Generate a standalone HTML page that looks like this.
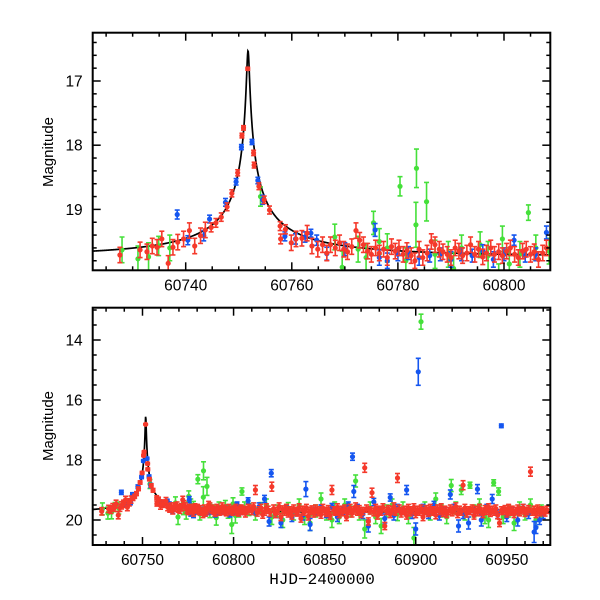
<!DOCTYPE html>
<html><head><meta charset="utf-8">
<style>
html,body{margin:0;padding:0;background:#fff;}
svg{display:block;}
text{font-family:"Liberation Sans",sans-serif;fill:#000;}
</style></head>
<body>
<svg id="chart" width="600" height="600" viewBox="0 0 600 600" xmlns="http://www.w3.org/2000/svg">
<defs>
<clipPath id="clipTop"><rect x="92.7" y="32.7" width="457.6" height="237.6"/></clipPath>
<clipPath id="clipBot"><rect x="92.7" y="307.7" width="457.6" height="237.3"/></clipPath>
</defs>
<g id="top"></g>
<g id="bot"></g>
<text x="0" y="0" transform="translate(53,152) rotate(-90)" text-anchor="middle" font-size="15">Magnitude</text>
<text x="0" y="0" transform="translate(53,426) rotate(-90)" text-anchor="middle" font-size="15">Magnitude</text>
<text x="322" y="584" text-anchor="middle" font-size="16" style="font-family:'Liberation Mono',monospace">HJD−2400000</text>
</svg>
<script>
// ---- data ----
const redT=[60727.6,60731.4,60732.7,60733.7,60734.6,60735.5,60736.7,60737.6,60738.5,60739.6,60740.7,60741.7,60742.8,60743.7,60744.8,60745.7,60746.7,60747.8,60748.7,60749.8,60750.6,60750.9,60751.7,60752.8,60752.9,60753.8,60754.8,60755.8,60757.8,60757.9,60758.8,60759.9,60760.8,60761.9,60762.9,60763.8,60764.9,
60765.8,60766.6,60767.3,60768.2,60769.0,60769.8,60770.5,60771.3,60772.1,60772.8,60773.5,60774.3,60775.0,60775.8,60776.5,60777.3,60778.0,60778.8,60779.5,60780.2,60781.0,60781.7,60782.5,60783.2,60784.0,60784.7,60785.5,60786.3,60787.0,60787.8,60788.5,60789.3,60790.0,60790.8,60791.5,60792.2,60793.0,60793.7,60794.5,60795.2,60796.0,60796.7,60797.5,60798.2,60799.0,60799.7,60800.5,60801.2,60802.0,60802.7,60803.5,60804.2,60805.0,60805.7,60806.5,60807.3,60808.0,
60809,60810,60811,60812,60813,60814,60815,60816,60817,60818,60819,60820,60821,60822,60823,60824,60825,60826,60827,60828,60829,60830,60831,60832,60833,60834,60835,60836,60837,60838,60839,60840,60841,60842,60843,60844,60845,60846,60847,60848,60849,60850,60851,60852,60853,60854,60855,60856,60857,60858,60859,60860,60861,60862,60863,60864,60865,60866,60867,60868,60869,60870,60871,60872,60873,60874,60875,60876,60877,60878,60879,60880,60881,60882,60883,60884,60885,60886,60887,60888,60889,60890,60891,60892,60893,60894,60895,60896,60897,60898,60899,60900,60901,60902,60903,60904,60905,60906,60907,60908,60909,60910,60911,60912,60913,60914,60915,60916,60917,60918,60919,60920,60921,60922,60923,60924,60925,60926,60927,60928,60929,60930,60931,60932,60933,60934,60935,60936,60937,60938,60939,60940,60941,60942,60943,60944,60945,60946,60947,60948,60949,60950,60951,60952,60953,60954,60955,60956,60957,60958,60959,60960,60961,60962,60963,60964,60965,60966,60967,60968,60969,60970,60971,60972];
const redM=[19.71,19.63,19.66,19.57,19.59,19.46,19.84,19.59,19.51,19.46,19.33,19.57,19.41,19.32,19.28,19.21,19.12,18.96,18.75,18.43,17.85,17.73,16.81,18.12,18.31,18.64,18.85,19.01,19.26,19.46,19.31,19.52,19.46,19.45,19.37,19.57,19.62,
19.55,19.68,19.55,19.60,19.52,19.62,19.66,19.58,19.33,19.48,19.55,19.65,19.70,19.60,19.68,19.62,19.75,19.58,19.65,19.60,19.70,19.64,19.72,19.80,19.62,19.75,19.68,19.50,19.55,19.62,19.66,19.70,19.75,19.60,19.65,19.72,19.68,19.55,19.70,19.62,19.74,19.68,19.60,19.70,19.66,19.72,19.65,19.60,19.70,19.75,19.65,19.62,19.70,19.66,19.78,19.68,19.60,
19.62,19.70,19.55,19.00,19.75,19.68,19.60,19.82,19.72,19.58,19.66,19.75,18.89,19.62,19.80,19.70,19.55,19.90,19.65,19.72,19.60,19.78,19.68,19.85,19.62,19.70,19.75,19.58,19.95,19.66,19.72,19.60,19.88,19.70,19.65,19.78,19.62,19.74,19.68,19.82,19.60,19.70,19.76,19.64,19.85,19.00,19.68,19.72,19.58,19.80,19.66,19.74,19.62,19.90,19.70,19.60,19.78,19.68,19.55,19.72,19.64,19.80,19.70,18.26,19.62,20.05,19.68,19.09,19.74,19.60,19.85,19.66,19.72,19.58,20.20,19.70,19.64,19.80,19.68,19.55,19.72,18.60,19.62,19.78,19.70,19.66,19.85,19.60,19.74,19.68,19.58,19.80,19.66,19.72,19.62,19.90,19.70,19.64,19.76,19.60,19.72,19.68,19.84,19.62,19.70,19.58,19.76,19.66,19.80,19.70,19.62,19.74,19.68,19.55,19.80,19.66,19.72,18.84,19.60,19.78,19.68,19.70,19.62,19.85,19.66,19.74,19.60,19.72,19.80,19.64,19.70,19.58,19.76,19.66,19.72,19.62,19.84,20.10,19.68,19.70,19.64,19.78,19.60,19.72,19.66,19.80,19.70,19.62,19.74,19.68,19.60,19.76,19.70,19.64,18.39,19.72,19.66,19.80,19.62,19.74,19.68,19.70,19.75,19.66];
const blueT=[60738.4,60740.4,60743.4,60744.5,60747.5,60749.5,60750.5,60752.5,60753.6,60754.5,60758.7,60760.7,60762.5,60763.6,60764.7,60766.6,60770,60775.7,60776.5,60778,60780,60782,60784,60786,60788,60790,60792,60794,60796,60798,60800,60801.9,60804,60806,60808,60811,60814,60817,60819.5,60820.7,60823,60826,60829,60832,60835,60838,60839.7,60842,60845,60848,60851,60854,60857,60860,60863,60865.3,60866,60868,60871,60874,60877,60880,60883,60886,60888,60890,60893,60895,60898,60900,60901.4,60904,60907,60910,60913,60916,60919,60921,60923.5,60926,60929,60932,60933.9,60936,60939,60942,60945,60947,60950,60953,60956,60959,60962,60965,60966,60968,60970];
const blueM=[19.08,19.48,19.41,19.15,18.89,18.57,18.03,17.95,18.55,18.85,19.42,19.46,19.43,19.37,19.48,19.69,19.62,19.32,19.75,19.80,19.70,19.68,19.75,19.72,19.70,19.78,19.70,19.72,19.65,19.78,19.70,19.48,19.72,19.70,19.36,19.70,19.55,19.30,20.05,18.44,19.80,20.10,19.60,19.90,19.70,19.85,18.97,20.15,19.70,19.60,19.80,19.55,19.90,19.70,19.50,17.89,19.05,19.60,19.80,20.20,19.40,19.70,19.95,19.25,19.85,19.60,19.70,19.00,19.80,20.30,15.06,19.60,19.80,19.50,19.85,19.70,19.15,19.60,20.20,19.80,20.10,19.70,18.97,20.00,19.60,19.30,19.80,16.86,19.90,19.70,20.00,19.60,19.80,20.40,20.25,20.00,19.80];
const blueE=[0.07,0.07,0.08,0.06,0.06,0.05,0.04,0.04,0.05,0.07,0.07,0.08,0.08,0.06,0.08,0.1,0.1,0.1,0.12,0.12,0.1,0.1,0.12,0.1,0.1,0.12,0.1,0.1,0.1,0.12,0.1,0.08,0.1,0.1,0.1,0.12,0.12,0.12,0.15,0.12,0.12,0.15,0.1,0.15,0.12,0.15,0.25,0.2,0.12,0.1,0.12,0.1,0.15,0.12,0.1,0.12,0.2,0.12,0.15,0.2,0.12,0.12,0.15,0.12,0.15,0.12,0.12,0.15,0.15,0.2,0.45,0.12,0.15,0.12,0.15,0.12,0.15,0.12,0.2,0.15,0.2,0.12,0.15,0.2,0.12,0.15,0.15,0.06,0.15,0.12,0.2,0.12,0.15,0.35,0.2,0.15,0.15];
const greenT=[60728.0,60731.0,60733.0,60734.9,60737.0,60754.1,60768.1,60769.5,60772.5,60774,60775.4,60776.5,60778,60780.4,60781.5,60783.4,60783.5,60785.4,60787,60789.5,60790.5,60792,60795.5,60797,60799,60799.7,60801,60803,60804.6,60806,60808.5,60812,60815,60818,60821,60824,60827,60830,60833,60836,60839,60842,60845,60848,60851,60854,60855.5,60858,60861,60864,60867,60869,60872,60875,60878,60881,60884,60887,60890,60893,60896,60899,60902.9,60905,60908,60911,60914,60917,60919.5,60922,60925,60927,60929.8,60932,60935,60938,60940,60942.8,60945.5,60948,60951,60954,60957,60960,60963,60966,60969];
const greenM=[19.63,19.77,19.74,19.57,19.60,18.80,19.43,19.90,19.62,19.75,19.21,19.50,19.60,18.64,19.80,19.24,18.36,18.88,19.70,19.70,19.92,19.60,19.55,19.72,20.15,19.46,19.85,19.70,19.05,19.60,19.65,19.80,19.60,19.50,19.90,19.70,20.00,19.60,19.80,19.50,19.90,20.10,19.70,19.30,19.80,20.00,19.60,19.90,19.50,19.70,18.70,19.80,20.30,19.60,19.90,20.20,19.70,19.50,19.80,19.60,19.90,20.60,13.39,19.60,19.80,19.30,19.70,19.90,18.85,19.60,19.00,19.80,18.84,19.70,19.50,19.90,20.00,18.76,19.05,19.90,19.70,20.10,19.60,19.80,19.50,20.00,19.70];
const greenE=[0.2,0.2,0.22,0.15,0.2,0.15,0.2,0.25,0.2,0.22,0.18,0.2,0.22,0.15,0.2,0.35,0.3,0.3,0.22,0.2,0.25,0.2,0.2,0.22,0.3,0.2,0.25,0.2,0.12,0.2,0.2,0.2,0.18,0.2,0.25,0.2,0.25,0.18,0.2,0.2,0.25,0.25,0.2,0.2,0.2,0.25,0.2,0.22,0.2,0.2,0.2,0.2,0.3,0.2,0.22,0.25,0.2,0.2,0.22,0.2,0.22,0.35,0.25,0.2,0.2,0.2,0.2,0.22,0.2,0.2,0.15,0.2,0.1,0.2,0.2,0.22,0.25,0.1,0.12,0.22,0.2,0.25,0.2,0.2,0.2,0.22,0.2];
// model parameters: t0, u0, tE, blend fraction, baseline magnitude
const modelT0=[60751.75];
const modelU0=[0.0055];
const modelTE=[45];
const modelFs=[0.1];
const modelBase=[19.73];
const topXTicks=[60740,60760,60780,60800];
const topYTicks=[17,18,19];
const botXTicks=[60750,60800,60850,60900,60950];
const botYTicks=[14,16,18,20];

const NS="http://www.w3.org/2000/svg";
function mk(tag,attrs,parent){const e=document.createElementNS(NS,tag);for(const k in attrs)e.setAttribute(k,attrs[k]);parent.appendChild(e);return e;}
function redErr(t,m){
  if(Math.abs(t-modelT0[0])<8) return Math.max(0.02,0.085*Math.pow(10,0.2*(m-19.7)));
  return m<19.3?0.15:0.12;
}
function modelMag(t){const u=Math.sqrt(modelU0[0]**2+((t-modelT0[0])/modelTE[0])**2);const A=(u*u+2)/(u*Math.sqrt(u*u+4));return modelBase[0]-2.5*Math.log10(modelFs[0]*A+1-modelFs[0]);}

const panels=[
 {g:document.getElementById('top'),clip:'url(#clipTop)',L:92.7,R:550.3,T:32.7,B:270.3,
  x:t=>92.7+(t-60722.47)*5.305,y:m=>81+(m-17)*64.2,t0:60722.47,t1:60808.7,
  xt:topXTicks,xmin:[60725,60810,5],yt:topYTicks,ymin:[16.4,19.85,0.2],name:'top'},
 {g:document.getElementById('bot'),clip:'url(#clipBot)',L:92.7,R:550.3,T:307.7,B:545,
  x:t=>142.5+(t-60750)*1.8215,y:m=>340+(m-14)*30,t0:60722.6,t1:60974,
  xt:botXTicks,xmin:[60730,60975,10],yt:botYTicks,ymin:[13,20.85,0.5],name:'bottom'}
];

panels.forEach(p=>{
 const dg=mk('g',{'clip-path':p.clip},p.g);
 
 
 let d='';
 for(let i=0;i<=1400;i++){const t=p.t0+(p.t1-p.t0)*i/1400;d+=(i?'L':'M')+p.x(t).toFixed(2)+','+p.y(modelMag(t)).toFixed(2);}
 const ml=mk('path',{d:d,fill:'none',stroke:'#000','stroke-width':1.7},dg);
 
 
 const series=[
  {n:'green',c:'#45e03a',T:greenT,M:greenM,E:i=>greenE[i]??0.2},
  {n:'blue',c:'#1556f0',T:blueT,M:blueM,E:i=>blueE[i]??0.1},
  {n:'red',c:'#f5392b',T:redT,M:redM,E:i=>redErr(redT[i],redM[i])}
 ];
 series.forEach(s=>{
  const sg=mk('g',{stroke:s.c,fill:s.c,'stroke-width':1.6},dg);
  
  
  s.T.forEach((t,i)=>{
   const m=s.M[i];if(m===undefined)return;
   const cx=p.x(t),cy=p.y(m),e=s.E(i);
   const y1=p.y(m-e),y2=p.y(m+e);
   const pt=mk('g',{},sg);
   
   
   mk('line',{x1:cx,y1:y1,x2:cx,y2:y2},pt);
   mk('line',{x1:cx-2.5,y1:y1,x2:cx+2.5,y2:y1},pt);
   mk('line',{x1:cx-2.5,y1:y2,x2:cx+2.5,y2:y2},pt);
   mk('circle',{cx:cx,cy:cy,r:2.6,stroke:'none'},pt);
  });
 });
 const fr=mk('rect',{x:p.L,y:p.T,width:p.R-p.L,height:p.B-p.T,fill:'none',stroke:'#000','stroke-width':2},p.g);
 
 
 const tg=mk('g',{stroke:'#000','stroke-width':1.5},p.g);
 
 
 for(let t=p.xmin[0];t<=p.xmin[1]+1e-6;t+=p.xmin[2]){const x=p.x(t);if(x<p.L+1||x>p.R-1)continue;
  const maj=p.xt.some(v=>Math.abs(v-t)<1e-6);const L=maj?8:4;
  mk('line',{x1:x,y1:p.B,x2:x,y2:p.B-L},tg);mk('line',{x1:x,y1:p.T,x2:x,y2:p.T+L},tg);}
 for(let m=p.ymin[0];m<=p.ymin[1]+1e-6;m+=p.ymin[2]){const y=p.y(m);if(y<p.T+1||y>p.B-1)continue;
  const maj=p.yt.some(v=>Math.abs(v-m)<1e-6);const L=maj?8:4;
  mk('line',{x1:p.L,y1:y,x2:p.L+L,y2:y},tg);mk('line',{x1:p.R,y1:y,x2:p.R-L,y2:y},tg);}
 p.xt.forEach(v=>{const tx=mk('text',{x:p.x(v),y:p.B+20,'text-anchor':'middle','font-size':15.5},p.g);tx.textContent=String(v);
  
  });
 p.yt.forEach(v=>{const tx=mk('text',{x:p.L-10,y:p.y(v)+5.5,'text-anchor':'end','font-size':15.5},p.g);tx.textContent=String(v);
  
  });
});
</script>
</body></html>
